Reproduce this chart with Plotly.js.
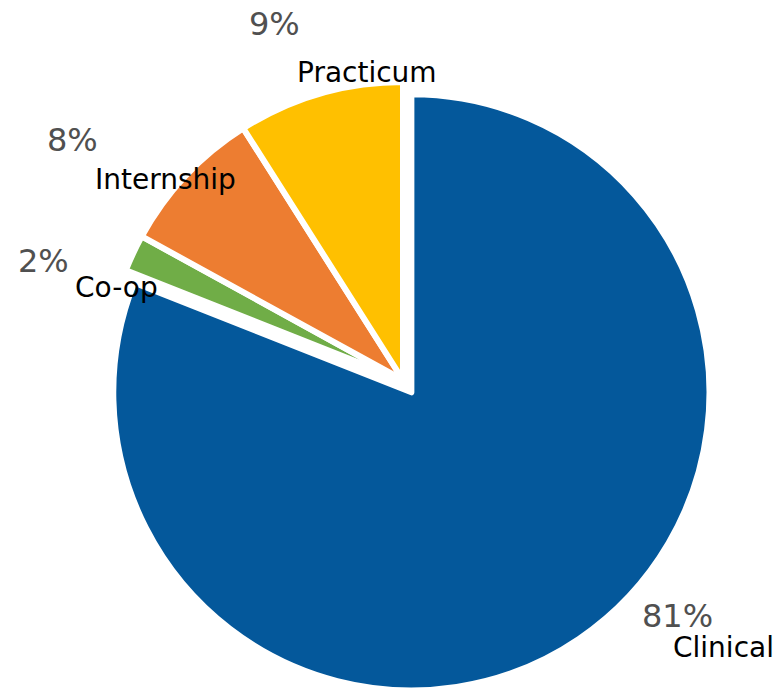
<!DOCTYPE html>
<html>
<head>
<meta charset="utf-8">
<script src="https://cdn.plot.ly/plotly-3.0.1.min.js"></script>
<style>html,body{margin:0;padding:0;background:#fff;}#chart{width:783px;height:693px;}</style>
</head>
<body>
<div id="chart"></div>
<script>
// Data
var categories = ["Clinical", "Co-op", "Internship", "Practicum"];
var values = [81, 2, 8, 9];
var sliceColors = ["#04589B", "#70AD47", "#ED7D31", "#FFC000"];
var pulls = [0.05, 0, 0, 0];

// Label positions in pixels (percent label, category label)
var pctPos = [[677, 616], [43, 261], [72, 140], [274, 24]];
var catPos = [[723, 647], [116, 287], [165, 180], [367, 73]];

var W = 783, H = 693;
var annotations = [];
for (var i = 0; i < categories.length; i++) {
  annotations.push({
    text: values[i] + "%", xref: "paper", yref: "paper",
    x: pctPos[i][0] / W, y: 1 - pctPos[i][1] / H,
    xanchor: "center", yanchor: "middle", showarrow: false,
    font: {family: "DejaVu Sans", size: 32, color: "#505050"}
  });
  annotations.push({
    text: categories[i], xref: "paper", yref: "paper",
    x: catPos[i][0] / W, y: 1 - catPos[i][1] / H,
    xanchor: "center", yanchor: "middle", showarrow: false,
    font: {family: "DejaVu Sans", size: 28, color: "#000000"}
  });
}

var trace = {
  type: "pie",
  labels: categories,
  values: values,
  sort: false,
  direction: "clockwise",
  rotation: 0,
  pull: pulls,
  textinfo: "none",
  hoverinfo: "label+percent",
  marker: {colors: sliceColors, line: {color: "#ffffff", width: 6}},
  domain: {x: [90 / W, 716 / W], y: [0, (H - 67) / H]}
};

var layout = {
  width: W, height: H,
  margin: {l: 0, r: 0, t: 0, b: 0},
  paper_bgcolor: "#ffffff",
  showlegend: false,
  annotations: annotations
};

Plotly.newPlot("chart", [trace], layout, {displayModeBar: false, staticPlot: true});
</script>
</body>
</html>
